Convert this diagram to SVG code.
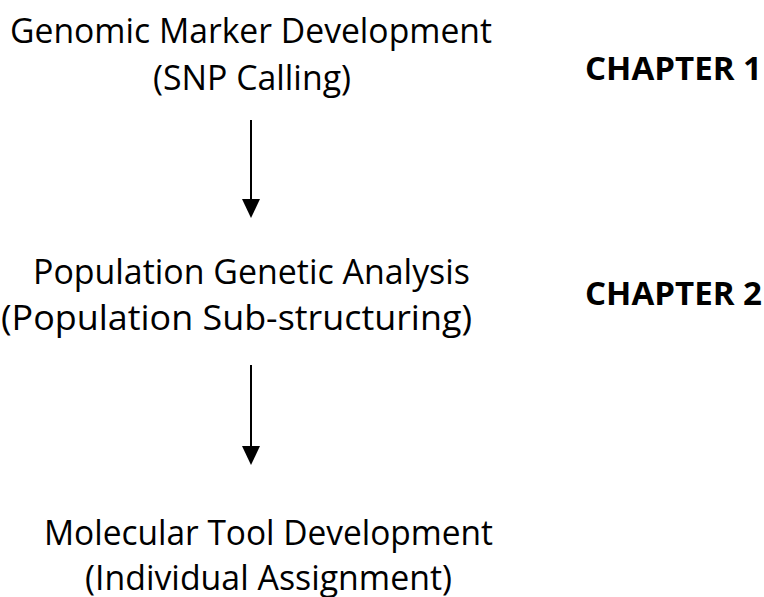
<svg xmlns="http://www.w3.org/2000/svg" width="764" height="597" viewBox="0 0 764 597">
<style>
.t{font-family:"Open Sans","Liberation Sans",sans-serif;font-size:35px;fill:#000}
.c{font-family:"Open Sans","Liberation Sans",sans-serif;font-size:33px;font-weight:bold;fill:#000}
.ln{stroke:#000;stroke-width:2;fill:none}
</style>
<defs>
<marker id="ah" markerWidth="10" markerHeight="10" refX="9" refY="5" orient="auto" markerUnits="userSpaceOnUse" viewBox="0 0 10 10">
<path d="M0,0 L10,5 L0,10 Z" fill="#000"/>
</marker>
</defs>
<rect width="764" height="597" fill="#fff"/>
<g id="node1">
<text class="t" x="10" y="43" textLength="482" lengthAdjust="spacingAndGlyphs">Genomic Marker Development</text>
<text class="t" x="153" y="90" textLength="198" lengthAdjust="spacingAndGlyphs">(SNP Calling)</text>
</g>
<g id="chapter1">
<text class="c" x="585" y="80" textLength="177" lengthAdjust="spacingAndGlyphs">CHAPTER 1</text>
</g>
<g id="node2">
<text class="t" x="33" y="284" textLength="437" lengthAdjust="spacingAndGlyphs">Population Genetic Analysis</text>
<text class="t" x="1" y="330" textLength="471" lengthAdjust="spacingAndGlyphs">(Population Sub-structuring)</text>
</g>
<g id="chapter2">
<text class="c" x="585" y="305" textLength="177" lengthAdjust="spacingAndGlyphs">CHAPTER 2</text>
</g>
<g id="node3">
<text class="t" x="44" y="545" textLength="449" lengthAdjust="spacingAndGlyphs">Molecular Tool Development</text>
<text class="t" x="85" y="590" textLength="367" lengthAdjust="spacingAndGlyphs">(Individual Assignment)</text>
</g>
<g id="connectors">
<line class="ln" x1="251" y1="120" x2="251" y2="200"/>
<path d="M242,199 L260,199 L251,218 Z" fill="#000"/>
<line class="ln" x1="251" y1="365" x2="251" y2="447"/>
<path d="M242,446 L260,446 L251,465 Z" fill="#000"/>
</g>
</svg>
